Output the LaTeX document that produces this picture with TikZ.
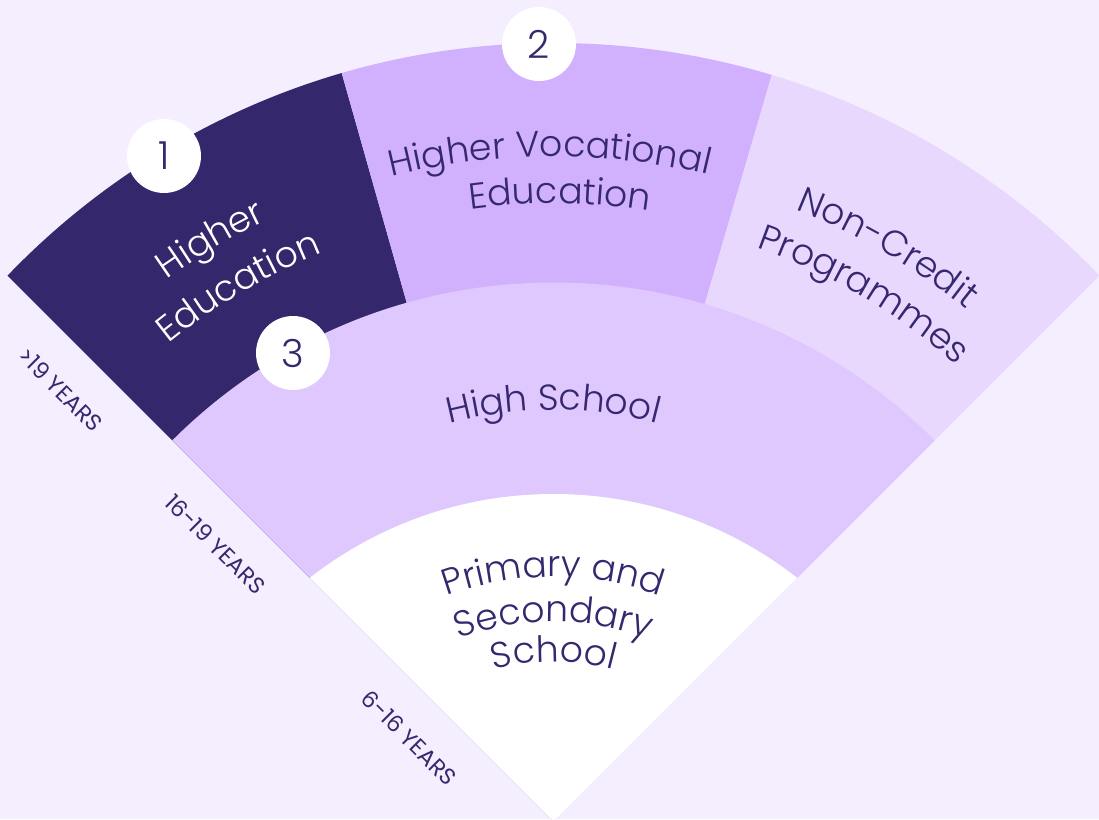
\documentclass[tikz,border=0pt]{standalone}
\usepackage{fontspec}
\setmainfont{Poppins Light}
\newfontfamily\agefont{Poppins}
\usetikzlibrary{decorations.text}

\definecolor{bgback}{HTML}{F5EEFE}
\definecolor{ink}{HTML}{35286E}
\definecolor{heduc}{HTML}{34276B}
\definecolor{hvoc}{HTML}{D1B0FD}
\definecolor{noncred}{HTML}{E8D8FE}
\definecolor{hschool}{HTML}{DEC8FE}

\newcommand{\bandfont}{\fontsize{10.3}{12}\selectfont}

\tikzset{
  arctext/.style={decorate, decoration={text along path, text align=center, text={#1}}},
  badge/.style={circle, fill=white, minimum size=7.4mm, inner sep=0pt, text=ink, font=\fontsize{11}{13}\selectfont},
  agelabel/.style={rotate=-45, text=ink, font=\agefont\fontsize{6.5}{8}\selectfont}
}

\begin{document}
\begin{tikzpicture}
  \fill [bgback] (-5.535,0.025) rectangle (5.455,8.215);
  \useasboundingbox (-5.535,0.025) rectangle (5.455,8.215);

  % the fan: three outer sectors, high school band, inner school
  \begin{scope}
    \clip (0,0) -- (45:12) -- (135:12) -- cycle;
    \clip (0,0.215) circle [radius=7.57];
    \fill [heduc] (0,0) -- (135:12) -- (105.8:12) -- cycle;
    \fill [hvoc] (0,0) -- (105.8:12) -- (73.7:12) -- cycle;
    \fill [noncred] (0,0) -- (73.7:12) -- (45:12) -- cycle;
    \fill [hschool] (0,0) circle [radius=5.39];
    \fill [white] (0,-0.683) circle [radius=3.958];
  \end{scope}

  % band titles, set along arcs
  \path [arctext={|\color{white}\bandfont|Higher}] (140.5:6.66) arc [start angle=140.5, end angle=100.5, radius=6.66];
  \path [arctext={|\color{white}\bandfont|Education}] (140.5:6.14) arc [start angle=140.5, end angle=100.5, radius=6.14];
  \path [arctext={|\color{ink}\bandfont|Higher Vocational}] (112.3:6.65) arc [start angle=112.3, end angle=68.3, radius=6.65];
  \path [arctext={|\color{ink}\bandfont|Education}] (111.4:6.18) arc [start angle=111.4, end angle=67.4, radius=6.18];
  \path [arctext={|\color{ink}\bandfont|Non-Credit}] (79.8:6.58) arc [start angle=79.8, end angle=39.8, radius=6.58];
  \path [arctext={|\color{ink}\bandfont|Programmes}] (79.5:6.09) arc [start angle=79.5, end angle=39.5, radius=6.09];
  \path [arctext={|\color{ink}\bandfont|High School}] (120:4.115) arc [start angle=120, end angle=60, radius=4.115];
  \path [arctext={|\color{ink}\bandfont|Primary and}] (0,-0.683) ++(125:3.128) arc [start angle=125, end angle=55, radius=3.128];
  \path [arctext={|\color{ink}\bandfont|Secondary}] (0,-0.683) ++(125:2.68) arc [start angle=125, end angle=55, radius=2.68];
  \path [arctext={|\color{ink}\bandfont|School}] (0,-0.683) ++(125:2.28) arc [start angle=125, end angle=55, radius=2.28];

  \node [badge] (b1) at (-3.895,6.655) {1};
  \node [badge] (b2) at (-0.145,7.775) {2};
  \node [badge] (b3) at (-2.605,4.685) {3};

  \node [agelabel] (age1) at ([shift={(225:0.43)}]135:6.54) {>19 YEARS};
  \node [agelabel] (age2) at ([shift={(225:0.43)}]135:4.35) {16-19 YEARS};
  \node [agelabel] (age3) at ([shift={(225:0.43)}]135:1.61) {6-16 YEARS};
\end{tikzpicture}
\end{document}
